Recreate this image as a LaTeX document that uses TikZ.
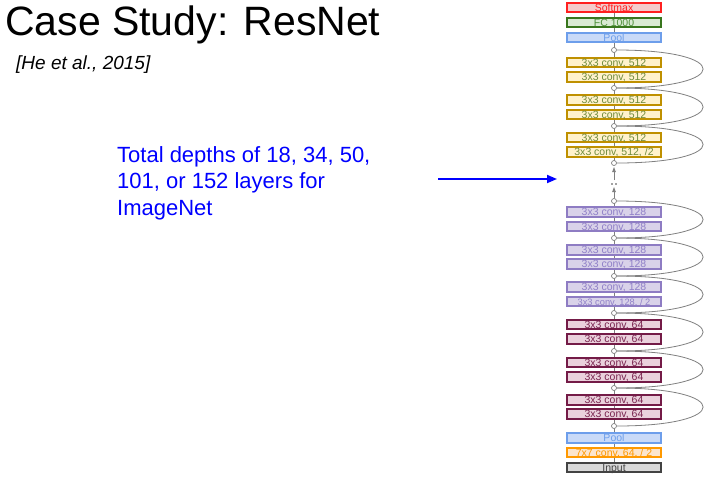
\documentclass[tikz,border=0pt]{standalone}
\usepackage{fontspec}
\setmainfont{Liberation Sans}
\usetikzlibrary{arrows.meta}
\definecolor{smF}{HTML}{F4CCCC}\definecolor{smD}{HTML}{FF2020}
\definecolor{fcF}{HTML}{D9EAD3}\definecolor{fcD}{HTML}{38761D}\definecolor{fcT}{HTML}{4E8F3A}
\definecolor{plF}{HTML}{C9DAF8}\definecolor{plD}{HTML}{6D9EEB}
\definecolor{aF}{HTML}{FFF2CC}\definecolor{aD}{HTML}{BF9000}\definecolor{aT}{HTML}{6E8B3D}
\definecolor{bF}{HTML}{D9D2E9}\definecolor{bD}{HTML}{8E7CC3}\definecolor{bT}{HTML}{9080C8}
\definecolor{cF}{HTML}{EAD1DC}\definecolor{cD}{HTML}{741B47}\definecolor{cT}{HTML}{7A2550}
\definecolor{oF}{HTML}{FCE5CD}\definecolor{oD}{HTML}{FF9900}
\definecolor{iF}{HTML}{D9D9D9}\definecolor{iD}{HTML}{434343}
\definecolor{lineG}{HTML}{808080}
\begin{document}
\begin{tikzpicture}[x=1pt,y=-1pt,
  layer/.style={draw, line width=1.6pt, minimum width=94pt, minimum height=9.5pt, inner sep=0pt, text height=7.2pt, text depth=0pt, font=\fontsize{10.5}{11}\selectfont},
  jn/.style={circle, draw=lineG, fill=white, line width=0.7pt, minimum size=5pt, inner sep=0pt},
  skip/.style={draw=lineG, line width=0.8pt},
  smx/.style={layer, fill=smF, draw=smD, text=smD},
  fcx/.style={layer, fill=fcF, draw=fcD, text=fcT},
  plx/.style={layer, fill=plF, draw=plD, text=plD},
  ax/.style={layer, fill=aF, draw=aD, text=aT},
  bx/.style={layer, fill=bF, draw=bD, text=bT},
  cx/.style={layer, fill=cF, draw=cD, text=cT},
  ox/.style={layer, fill=oF, draw=oD, text=oD},
  ix/.style={layer, fill=iF, draw=iD, text=iD},
  uparrow/.style={draw=lineG, line width=0.8pt, -{Triangle[length=5pt,width=3.5pt]}}
]
\useasboundingbox (0,0) rectangle (712,483);
\fill[white] (0,0) rectangle (712,483);

% titles
\node[anchor=base west, inner sep=0pt, font=\fontsize{41}{44}\selectfont] (title) at (5,35) {Case Study: ResNet};
\node[anchor=base west, inner sep=0pt, font=\fontsize{19}{21}\selectfont\itshape] (cite) at (16,69) {[He et al., 2015]};
\node[anchor=north west, align=left, inner sep=0pt, text=blue, font=\fontsize{22}{26.5}\selectfont] (txt) at (117,146) {Total depths of 18, 34, 50,\\101, or 152 layers for\\ImageNet};
\coordinate (aS) at (438,179);
\coordinate (aE) at (557,179);
\draw[blue, line width=1.8pt, -{Triangle[length=10pt,width=8pt]}] (aS) -- (aE);

% spine
\coordinate (top) at (614,8);
\coordinate (bot) at (614,467);
\coordinate (g1) at (614,163);
\coordinate (g2) at (614,201);
\draw[lineG, line width=0.8pt] (top) -- (g1);
\draw[lineG, line width=0.8pt] (g2) -- (bot);
\coordinate (u1s) at (614,180); \coordinate (u1e) at (614,167);
\coordinate (u2s) at (614,198); \coordinate (u2e) at (614,187);
\draw[uparrow] (u1s) -- (u1e);
\draw[uparrow] (u2s) -- (u2e);
\fill[iD] (612,184) circle (0.8pt);
\fill[iD] (616,184) circle (0.8pt);

% junctions
\foreach \n/\y in {j1/50,j2/88,j3/126,j4/163,j5/201,j6/238,j7/276,j8/313,j9/351,j10/388,j11/426}
  \node[jn] (\n) at (614,\y) {};

% skip connections
\foreach \a/\b in {j1/j2,j2/j3,j3/j4,j5/j6,j6/j7,j7/j8,j8/j9,j9/j10,j10/j11}
  \draw[skip] (\a.east) .. controls +(115,0) and +(115,0) .. (\b.east);

% layers
\node[smx] (softmax) at (614,7.5) {Softmax};
\node[fcx] (fc) at (614,22.5) {FC 1000};
\node[plx] (pool2) at (614,37.5) {Pool};
\node[ax] (a1) at (614,62.5) {3x3 conv, 512};
\node[ax] (a2) at (614,77) {3x3 conv, 512};
\node[ax] (a3) at (614,100) {3x3 conv, 512};
\node[ax] (a4) at (614,114.5) {3x3 conv, 512};
\node[ax] (a5) at (614,137.5) {3x3 conv, 512};
\node[ax] (a6) at (614,152) {3x3 conv, 512, /2};
\node[bx] (b1) at (614,212) {3x3 conv, 128};
\node[bx] (b2) at (614,226.5) {3x3 conv, 128};
\node[bx] (b3) at (614,250) {3x3 conv, 128};
\node[bx] (b4) at (614,264) {3x3 conv, 128};
\node[bx] (b5) at (614,287) {3x3 conv, 128};
\node[bx, font=\fontsize{9.3}{10}\selectfont] (b6) at (614,301.5) {3x3 conv, 128, / 2};
\node[cx] (c1) at (614,324.5) {3x3 conv, 64};
\node[cx] (c2) at (614,339) {3x3 conv, 64};
\node[cx] (c3) at (614,362.5) {3x3 conv, 64};
\node[cx] (c4) at (614,377) {3x3 conv, 64};
\node[cx] (c5) at (614,400) {3x3 conv, 64};
\node[cx] (c6) at (614,414) {3x3 conv, 64};
\node[plx] (pool1) at (614,438) {Pool};
\node[ox] (conv7) at (614,452.5) {7x7 conv, 64, / 2};
\node[ix] (input) at (614,467.5) {Input};
\end{tikzpicture}
\end{document}
